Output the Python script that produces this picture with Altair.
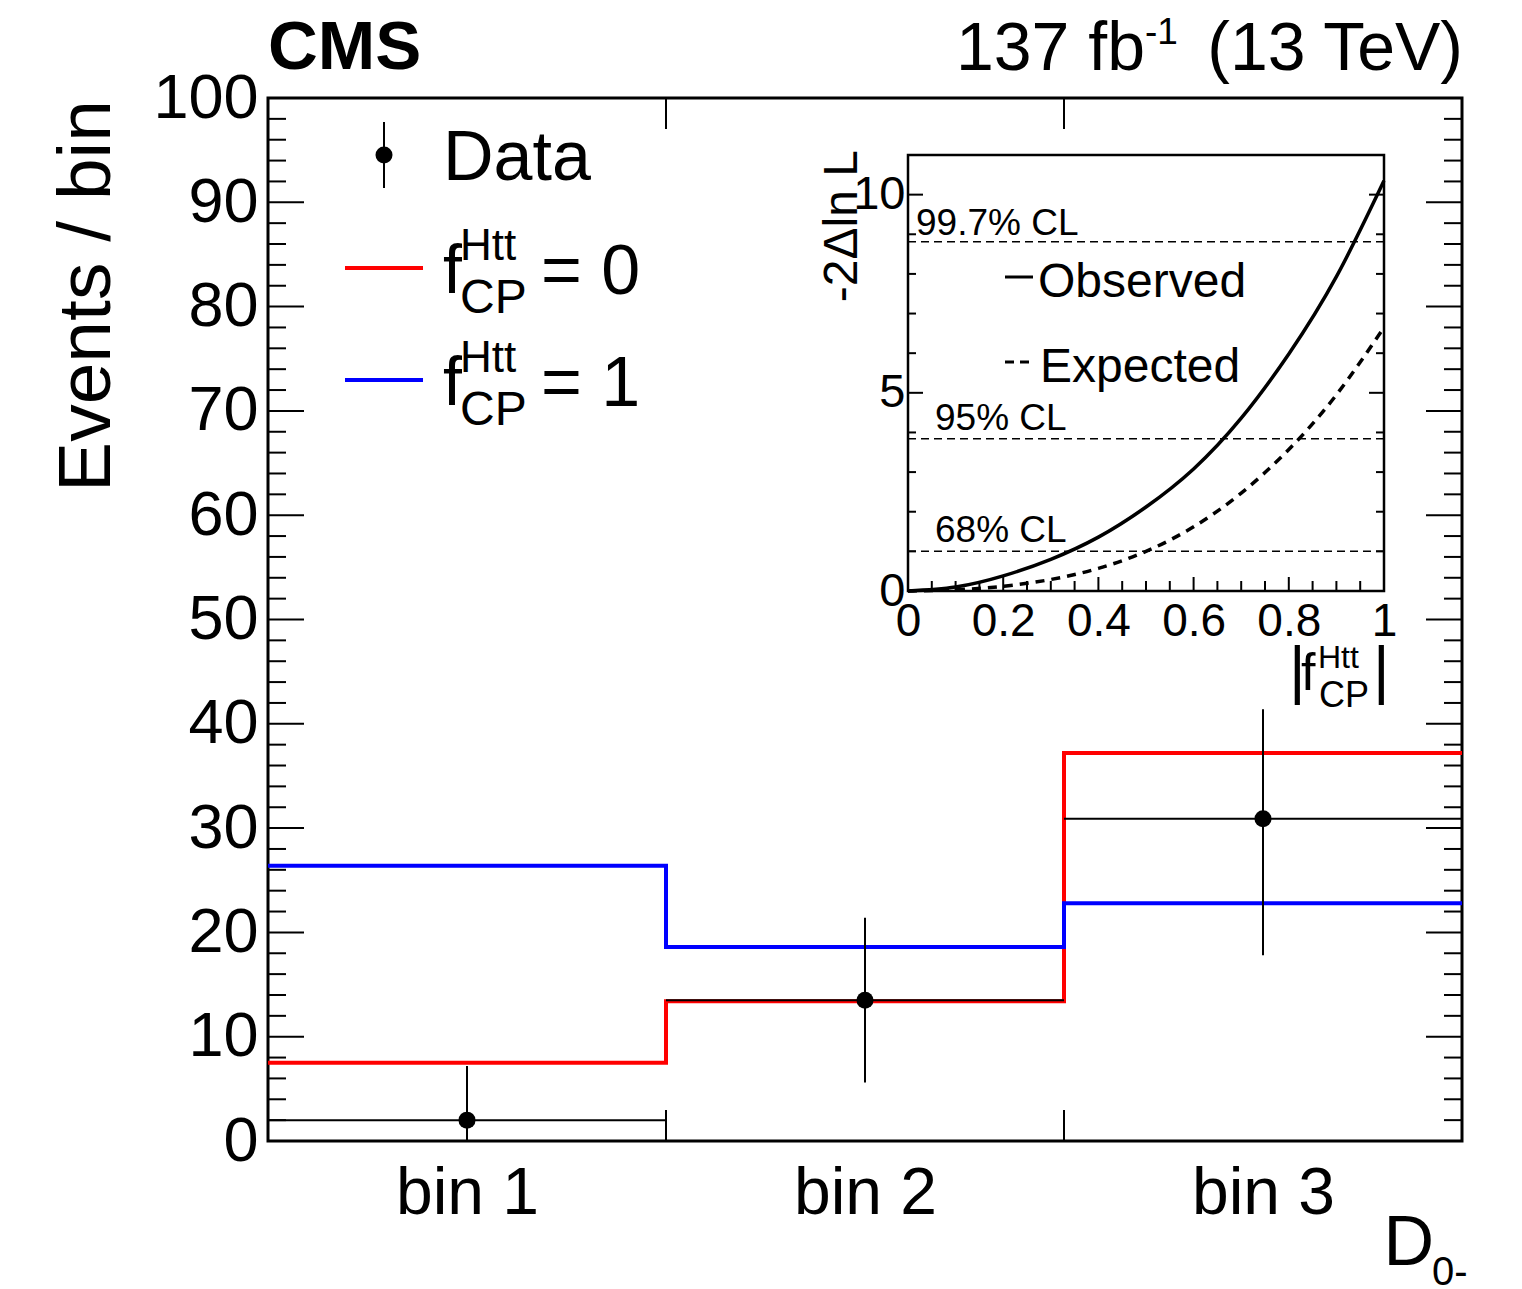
import json
import altair as alt
import pandas as pd

# ---- binned D0- distribution -------------------------------------------
bin_labels = ["bin 1", "bin 2", "bin 3"]
bin_edges = [0, 1, 2, 3]
data_counts = [2.0, 13.5, 30.9]
data_err_lo = [0.0, 5.6, 17.8]
data_err_hi = [7.2, 21.4, 41.4]
pred_fcp0 = [7.5, 13.4, 37.2]
pred_fcp1 = [26.4, 18.6, 22.8]

# ---- likelihood scan vs |fCP| ------------------------------------------
scan_f = [0.0, 0.1, 0.2, 0.3, 0.4, 0.5, 0.6, 0.7, 0.8, 0.9, 1.0]
scan_obs = [0.0, 0.1, 0.38, 0.8, 1.36, 2.12, 3.08, 4.36, 5.98, 7.93, 10.35]
scan_exp = [0.0, 0.03, 0.12, 0.29, 0.57, 1.0, 1.62, 2.47, 3.57, 4.95, 6.65]
cl_levels = [1.0, 3.84, 8.81]
cl_labels = ["68% CL", "95% CL", "99.7% CL"]

FONT = "Liberation Sans"
W, H = 1194, 1043

# inset frame in view pixels
IX0, IX1, IY0, IY1 = 640, 1116, 57, 493

# ---------------------------------------------------------------- main ---
x_scale = alt.Scale(domain=[0, 3], nice=False, zero=False)
y_scale = alt.Scale(domain=[0, 100], nice=False, zero=False)
x_axis = alt.Axis(
    values=[e + 0.5 for e in bin_edges[:-1]],
    labelExpr=json.dumps(bin_labels) + "[floor(datum.value)]",
    ticks=False, tickSize=0, domain=False, grid=False, title=None,
    labelFontSize=66, labelPadding=72, labelBaseline="alphabetic",
    labelFlush=False, labelOverlap=False, labelFont=FONT, labelColor="black",
)
y_axis = alt.Axis(
    values=list(range(0, 101, 10)),
    ticks=False, tickSize=0, domain=False, grid=False, title=None,
    labelFontSize=63, labelPadding=10, labelOverlap=False,
    labelFont=FONT, labelColor="black",
)
X = lambda f: alt.X(f, type="quantitative", scale=x_scale, axis=x_axis)
Y = lambda f: alt.Y(f, type="quantitative", scale=y_scale, axis=y_axis)

step_rows = []
for name, vals in (("fCP=0", pred_fcp0), ("fCP=1", pred_fcp1)):
    for e, v in zip(bin_edges, vals + [vals[-1]]):
        step_rows.append({"series": name, "x": e, "y": v})
steps_df = pd.DataFrame(step_rows)

steps = alt.Chart(steps_df).mark_line(interpolate="step-after", strokeWidth=4).encode(
    x=X("x"), y=Y("y"),
    color=alt.Color("series:N", scale=alt.Scale(domain=["fCP=0", "fCP=1"],
                                                range=["#ff0000", "#0000ff"]), legend=None),
)

data_df = pd.DataFrame({
    "lo": bin_edges[:-1], "hi": bin_edges[1:],
    "center": [e + 0.5 for e in bin_edges[:-1]],
    "n": data_counts, "elo": data_err_lo, "ehi": data_err_hi,
})
hbars = alt.Chart(data_df).mark_rule(color="black", strokeWidth=2).encode(
    x=X("lo"), x2="hi", y=Y("n"))
vbars = alt.Chart(data_df).mark_rule(color="black", strokeWidth=2).encode(
    x=X("center"), y=Y("elo"), y2="ehi")
points = alt.Chart(data_df).mark_circle(size=290, color="black", opacity=1).encode(
    x=X("center"), y=Y("n"))

# inward ROOT-style ticks
yt_major = pd.DataFrame({"v": list(range(0, 101, 10))})
yt_minor = pd.DataFrame({"v": [v for v in range(0, 101, 2) if v % 10]})
xt = pd.DataFrame({"v": bin_edges[1:-1]})


def yticks(df, x0, x1):
    return alt.Chart(df).mark_rule(color="black", strokeWidth=2).encode(
        y=Y("v"), x=alt.value(x0), x2=alt.value(x1))


def xticks(df, y0, y1):
    return alt.Chart(df).mark_rule(color="black", strokeWidth=2).encode(
        x=X("v"), y=alt.value(y0), y2=alt.value(y1))


main_ticks = [
    yticks(yt_major, 0, 36), yticks(yt_minor, 0, 18),
    yticks(yt_major, W - 36, W), yticks(yt_minor, W - 18, W),
    xticks(xt, H - 31, H), xticks(xt, 0, 31),
]


def txt(s, x, y, size, align="left", baseline="alphabetic", angle=0, weight="normal"):
    return alt.Chart(pd.DataFrame({"t": [s]})).mark_text(
        align=align, baseline=baseline, angle=angle, fontSize=size,
        font=FONT, fontWeight=weight, color="black",
    ).encode(text="t:N", x=alt.value(x), y=alt.value(y))


def seg(x0, x1, y0, y1, color="black", width=2, dash=None):
    kw = dict(color=color, strokeWidth=width)
    if dash:
        kw["strokeDash"] = dash
    return alt.Chart(pd.DataFrame({"k": [0]})).mark_rule(**kw).encode(
        x=alt.value(x0), x2=alt.value(x1), y=alt.value(y0), y2=alt.value(y1))


legend_marker = alt.Chart(pd.DataFrame({"k": [0]})).mark_circle(
    size=290, color="black", opacity=1).encode(x=alt.value(116), y=alt.value(57))

main_text = [
    txt("CMS", 0, -29, 69, weight="bold"),
    txt("137 fb", 877, -28, 68, align="right"),
    txt("-1", 877, -54, 37),
    txt("(13 TeV)", 1195, -28, 68, align="right"),
    txt("Events / bin", -158, 2, 75, align="right", angle=270),
    txt("D", 1166, 1167, 70, align="right"),
    txt("0-", 1164, 1187, 40),
    # legend
    seg(116, 116, 24, 90), legend_marker,
    txt("Data", 175, 82, 70),
    seg(77, 155, 170, 170, color="#ff0000", width=4),
    txt("f", 175, 195, 68), txt("Htt", 192, 162, 44), txt("CP", 192, 215, 48),
    txt("= 0", 273, 196, 70),
    seg(77, 155, 282, 282, color="#0000ff", width=4),
    txt("f", 175, 307, 68), txt("Htt", 192, 274, 44), txt("CP", 192, 327, 48),
    txt("= 1", 273, 308, 70),
]

main = alt.layer(steps, hbars, vbars, points, *main_ticks, *main_text)

# --------------------------------------------------------------- inset ---
ix_scale = alt.Scale(domain=[0, 1], range=[IX0, IX1], nice=False, zero=False)
iy_scale = alt.Scale(domain=[0, 11], range=[IY1, IY0], nice=False, zero=False)
ix_axis = alt.Axis(
    orient="bottom", offset=IY1 - H, values=[0, 0.2, 0.4, 0.6, 0.8, 1], format="~g",
    ticks=False, tickSize=0, domain=False, grid=False, title=None,
    labelFontSize=46, labelPadding=8, labelFlush=False, labelOverlap=False,
    labelFont=FONT, labelColor="black",
)
iy_axis = alt.Axis(
    orient="left", offset=-IX0, values=[0, 5, 10],
    ticks=False, tickSize=0, domain=False, grid=False, title=None,
    labelFontSize=47, labelPadding=3, labelOverlap=False,
    labelFont=FONT, labelColor="black",
)
IXe = lambda f: alt.X(f, type="quantitative", scale=ix_scale, axis=ix_axis)
IYe = lambda f: alt.Y(f, type="quantitative", scale=iy_scale, axis=iy_axis)

scan_df = pd.DataFrame({"f": scan_f, "obs": scan_obs, "exp": scan_exp})
obs_line = alt.Chart(scan_df).mark_line(
    color="black", strokeWidth=3.5, interpolate="natural").encode(x=IXe("f"), y=IYe("obs"))
exp_line = alt.Chart(scan_df).mark_line(
    color="black", strokeWidth=3.5, strokeDash=[9, 7], interpolate="natural").encode(
    x=IXe("f"), y=IYe("exp"))

cl_df = pd.DataFrame({"lvl": cl_levels, "label": cl_labels})
cl_lines = alt.Chart(cl_df).mark_rule(color="black", strokeWidth=1.5, strokeDash=[8, 5]).encode(
    y=IYe("lvl"), x=alt.value(IX0), x2=alt.value(IX1))

cl_text = []
for lvl, lab in zip(cl_levels, cl_labels):
    lx = IX0 + 8 if lab.startswith("99") else IX0 + 27
    cl_text.append(
        alt.Chart(pd.DataFrame({"lvl": [lvl], "label": [lab]})).mark_text(
            align="left", baseline="alphabetic", fontSize=37, font=FONT, color="black",
            dy=-7 if lab.startswith("99") else -9,
        ).encode(y=IYe("lvl"), x=alt.value(lx), text="label:N")
    )

iy_major = pd.DataFrame({"v": [0, 5, 10]})
iy_minor = pd.DataFrame({"v": [v for v in range(1, 11) if v % 5]})
ix_major = pd.DataFrame({"v": [0.2, 0.4, 0.6, 0.8]})
ix_minor = pd.DataFrame({"v": [i / 20 for i in range(1, 20) if i % 4]})


def iyticks(df, x0, x1):
    return alt.Chart(df).mark_rule(color="black", strokeWidth=2).encode(
        y=IYe("v"), x=alt.value(x0), x2=alt.value(x1))


def ixticks(df, y0, y1):
    return alt.Chart(df).mark_rule(color="black", strokeWidth=2).encode(
        x=IXe("v"), y=alt.value(y0), y2=alt.value(y1))


inset_ticks = [
    iyticks(iy_major, IX0, IX0 + 15), iyticks(iy_minor, IX0, IX0 + 8),
    iyticks(iy_major, IX1 - 15, IX1), iyticks(iy_minor, IX1 - 8, IX1),
    ixticks(ix_major, IY1 - 14, IY1), ixticks(ix_minor, IY1 - 10, IY1),
]

inset_frame = alt.Chart(pd.DataFrame({"k": [0]})).mark_rect(
    fillOpacity=0, stroke="black", strokeWidth=2.5).encode(
    x=alt.value(IX0), x2=alt.value(IX1), y=alt.value(IY0), y2=alt.value(IY1))

inset_text = [
    txt("-2\u0394ln L", 589, 52, 48, align="right", angle=270),
    seg(737, 765, 179, 179, width=3),
    txt("Observed", 770, 199, 48),
    seg(737, 762, 264, 264, width=3, dash=[9, 6]),
    txt("Expected", 772, 284, 48),
    txt("|", 1021, 594, 64), txt("f", 1033, 592, 52),
    txt("Htt", 1050, 570, 32), txt("CP", 1051, 609, 36),
    txt("|", 1105, 594, 64),
]

inset = alt.layer(inset_frame, cl_lines, *cl_text, obs_line, exp_line,
                  *inset_ticks, *inset_text)

chart = alt.layer(main, inset).resolve_scale(
    x="independent", y="independent"
).properties(
    width=W, height=H,
    autosize=alt.AutoSizeParams(type="none"),
    padding={"left": 268, "top": 98, "right": 60, "bottom": 148},
    background="white",
).configure_view(stroke="black", strokeWidth=3)

chart.save("out.html", embed_options={"renderer": "svg", "actions": False})
